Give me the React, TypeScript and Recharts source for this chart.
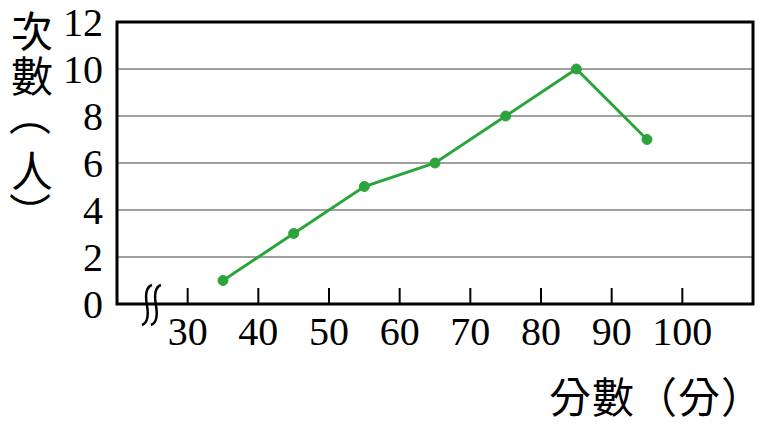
import { LineChart, Line, XAxis, YAxis, CartesianGrid, ReferenceArea, ReferenceDot } from 'recharts';

const scores = [35, 45, 55, 65, 75, 85, 95];
const counts = [1, 3, 5, 6, 8, 10, 7];
const xTicks = [30, 40, 50, 60, 70, 80, 90, 100];
const yTicks = [0, 2, 4, 6, 8, 10, 12];
const yLabelHead = '次數';
const yLabelTail = ['（', '人', '）'];
const xLabelText = '分數（分）';

const data = scores.map((s, i) => ({ score: s, count: counts[i] }));

const serif = '"Liberation Serif", "DejaVu Serif", serif';
const cjk = '"Noto Sans CJK TC", "Noto Sans CJK SC", sans-serif';
const green = '#2ca43c';

// x ticks point up into the plot, label below
const XTick = (props: any) => {
  const { x, y, payload } = props;
  const axisY = y - 14;
  return (
    <g>
      <line x1={x} x2={x} y1={axisY} y2={axisY - 16} stroke="#000" strokeWidth={2} />
      <text x={x} y={axisY + 41} textAnchor="middle" fontFamily={serif} fontSize={40} fill="#000">
        {payload.value}
      </text>
    </g>
  );
};

// vertical axis title: first two chars as vertical text, then brackets turned sideways
const YLabel = (props: any) => {
  const { viewBox } = props;
  const cx = viewBox.x + 32;
  const rows = [115, 168, 213];
  return (
    <g>
      <text
        x={cx}
        y={viewBox.y - 12}
        fontFamily={cjk}
        fontSize={42}
        fill="#000"
        style={{ writingMode: 'vertical-rl', letterSpacing: 3 }}
      >
        {yLabelHead}
      </text>
      {yLabelTail.map((c, i) => {
        const turned = c === '（' || c === '）';
        return (
          <text
            key={i}
            x={cx}
            y={rows[i]}
            textAnchor="middle"
            dominantBaseline="central"
            fontFamily={cjk}
            fontSize={42}
            fill="#000"
            transform={turned ? `rotate(90 ${cx} ${rows[i]})` : undefined}
          >
            {c}
          </text>
        );
      })}
    </g>
  );
};

const XLabel = (props: any) => {
  const { viewBox } = props;
  return (
    <text
      x={viewBox.x + viewBox.width - 204}
      y={viewBox.y + 109}
      fontFamily={cjk}
      fontSize={42}
      fill="#000"
      style={{ letterSpacing: 1 }}
    >
      {xLabelText}
    </text>
  );
};

// axis break squiggle
const BreakMark = (props: any) => {
  const { cx, cy } = props;
  const curve = (ox: number) =>
    `M ${cx + ox + 5} ${cy - 19} Q ${cx + ox - 3} ${cy - 16} ${cx + ox} ${cy + 1} Q ${cx + ox + 3} ${cy + 18} ${cx + ox - 5} ${cy + 21}`;
  return (
    <g>
      <path d={curve(-4)} stroke="#000" strokeWidth={2.5} fill="none" />
      <path d={curve(5)} stroke="#000" strokeWidth={2.5} fill="none" />
    </g>
  );
};

export default function App() {
  return (
    <div style={{ position: 'absolute', left: 0, top: 0, background: '#fff' }}>
      <LineChart width={770} height={430} data={data} margin={{ top: 22, right: 17, left: 0, bottom: 0 }}>
        <CartesianGrid vertical={false} stroke="#a0a0a0" strokeWidth={2} />
        <XAxis
          dataKey="score"
          type="number"
          domain={[20, 110]}
          ticks={xTicks}
          height={126}
          axisLine={false}
          tickLine={false}
          tickSize={0}
          tickMargin={14}
          tick={<XTick />}
          interval={0}
          label={<XLabel />}
        />
        <YAxis
          type="number"
          domain={[0, 12]}
          ticks={yTicks}
          width={117}
          axisLine={false}
          tickLine={false}
          tickSize={0}
          tickMargin={14}
          interval={0}
          tick={{ fontFamily: serif, fontSize: 40, fill: '#000' }}
          label={<YLabel />}
        />
        <ReferenceArea x1={20} x2={110} y1={0} y2={12} fill="none" stroke="#000" strokeWidth={3} ifOverflow="visible" />
        <ReferenceDot x={24.8} y={0} ifOverflow="visible" shape={<BreakMark />} />
        <Line
          dataKey="count"
          stroke={green}
          strokeWidth={3}
          dot={{ r: 5, fill: green, stroke: green, strokeWidth: 1 }}
          isAnimationActive={false}
        />
      </LineChart>
    </div>
  );
}
